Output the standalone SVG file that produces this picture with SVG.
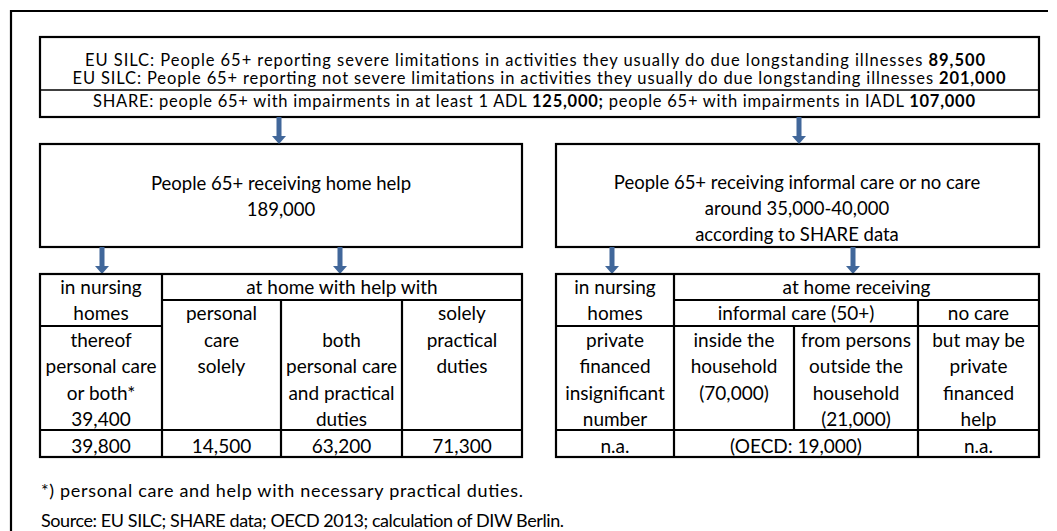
<svg xmlns="http://www.w3.org/2000/svg" width="1057" height="531" viewBox="0 0 1057 531">
<style>
.t{font-family:Lato,"Liberation Sans",sans-serif;font-size:19px;fill:#000;text-anchor:middle}
.m{font-size:18.5px}
.h{font-family:Lato,"Liberation Sans",sans-serif;font-size:16.5px;fill:#000;text-anchor:middle}
.f{font-family:Lato,"Liberation Sans",sans-serif;font-size:18px;fill:#000}
.b{stroke:#000;stroke-width:2.2;fill:none}
.d{stroke:#000;stroke-width:1.6;fill:none}
.bold{font-weight:bold}
.arrow{fill:#41679A}
</style>
<defs>
<path id="arr" d="M-2.5 0 H2.5 V19 H7 L0 27 L-7 19 H-2.5 Z"/>
</defs>
<rect width="1057" height="531" fill="#fff"/>
<path class="b" d="M11 531 V11 H1048"/>

<g id="top">
<rect class="b" x="40" y="37" width="999" height="80"/>
<line class="d" x1="40" y1="90" x2="1039" y2="90"/>
<text class="h" x="535" y="66" textLength="900">EU SILC: People 65+ reporting severe limitations in activities they usually do due longstanding illnesses <tspan class="bold">89,500</tspan></text>
<text class="h" x="539" y="84" textLength="933">EU SILC: People 65+ reporting not severe limitations in activities they usually do due longstanding illnesses <tspan class="bold">201,000</tspan></text>
<text class="h" x="534" y="107" textLength="882">SHARE: people 65+ with impairments in at least 1 ADL <tspan class="bold">125,000;</tspan> people 65+ with impairments in IADL <tspan class="bold">107,000</tspan></text>
</g>

<g id="homehelp">
<rect class="b" x="40" y="144" width="482" height="103"/>
<text class="t m" x="281" y="190">People 65+ receiving home help</text>
<text class="t m" x="281" y="216">189,000</text>
</g>

<g id="informal">
<rect class="b" x="556" y="144" width="483" height="103"/>
<text class="t m" x="797" y="189">People 65+ receiving informal care or no care</text>
<text class="t m" x="797" y="215">around 35,000-40,000</text>
<text class="t m" x="797" y="241">according to SHARE data</text>
</g>

<g id="connectors" class="arrow">
<use href="#arr" x="279" y="117"/>
<use href="#arr" x="799" y="117"/>
<use href="#arr" x="102" y="247"/>
<use href="#arr" x="340" y="247"/>
<use href="#arr" x="612" y="247"/>
<use href="#arr" x="853" y="247"/>
</g>

<g id="table-left">
<rect class="b" x="40" y="274" width="482" height="183"/>
<path class="b" d="M162 274 V457 M162 300 H522 M40 326 H162 M281 300 V457 M402 300 V457 M40 430 H522"/>
<text class="t" x="101" y="294">in nursing</text>
<text class="t" x="101" y="320">homes</text>
<text class="t" x="101" y="347">thereof</text>
<text class="t" x="101" y="373">personal care</text>
<text class="t" x="101" y="400">or both*</text>
<text class="t" x="101" y="426">39,400</text>
<text class="t" x="342" y="294">at home with help with</text>
<text class="t" x="221.5" y="320">personal</text>
<text class="t" x="221.5" y="347">care</text>
<text class="t" x="221.5" y="373">solely</text>
<text class="t" x="341.5" y="347">both</text>
<text class="t" x="341.5" y="373">personal care</text>
<text class="t" x="341.5" y="400">and practical</text>
<text class="t" x="341.5" y="426">duties</text>
<text class="t" x="462" y="320">solely</text>
<text class="t" x="462" y="347">practical</text>
<text class="t" x="462" y="373">duties</text>
<text class="t" x="101" y="453">39,800</text>
<text class="t" x="221.5" y="453">14,500</text>
<text class="t" x="341.5" y="453">63,200</text>
<text class="t" x="462" y="453">71,300</text>
</g>

<g id="table-right">
<rect class="b" x="556" y="274" width="483" height="183"/>
<path class="b" d="M674 274 V457 M674 300 H1039 M556 326 H1039 M918 300 V457 M794 326 V430 M556 430 H1039"/>
<text class="t" x="615" y="294">in nursing</text>
<text class="t" x="615" y="320">homes</text>
<text class="t" x="615" y="347">private</text>
<text class="t" x="615" y="373">financed</text>
<text class="t" x="615" y="400">insignificant</text>
<text class="t" x="615" y="426">number</text>
<text class="t" x="856.5" y="294">at home receiving</text>
<text class="t" x="796" y="320">informal care (50+)</text>
<text class="t" x="978.5" y="320">no care</text>
<text class="t" x="734" y="347">inside the</text>
<text class="t" x="734" y="373">household</text>
<text class="t" x="734" y="400">(70,000)</text>
<text class="t" x="856" y="347">from persons</text>
<text class="t" x="856" y="373">outside the</text>
<text class="t" x="856" y="400">household</text>
<text class="t" x="856" y="426">(21,000)</text>
<text class="t" x="978.5" y="347">but may be</text>
<text class="t" x="978.5" y="373">private</text>
<text class="t" x="978.5" y="400">financed</text>
<text class="t" x="978.5" y="426">help</text>
<text class="t" x="615" y="453">n.a.</text>
<text class="t" x="796" y="453">(OECD: 19,000)</text>
<text class="t" x="978.5" y="453">n.a.</text>
</g>

<g id="footnote">
<text class="f" x="41" y="497" textLength="482">*) personal care and help with necessary practical duties.</text>
<text class="f" x="41" y="527" textLength="523">Source: EU SILC; SHARE data; OECD 2013; calculation of DIW Berlin.</text>
</g>
</svg>
